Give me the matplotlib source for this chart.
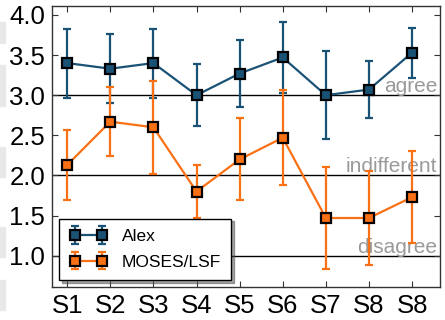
import numpy as np
import matplotlib
matplotlib.use("Agg")
import matplotlib.pyplot as plt
from matplotlib.patches import Rectangle

plt.rcParams['font.family'] = ['Liberation Sans', 'DejaVu Sans']

labels = ["S1", "S2", "S3", "S4", "S5", "S6", "S7", "S8", "S8"]
alex_mean = [3.40, 3.33, 3.40, 3.00, 3.27, 3.47, 3.00, 3.07, 3.53]
alex_err = [0.43, 0.43, 0.43, 0.39, 0.42, 0.44, 0.55, 0.36, 0.31]
moses_mean = [2.13, 2.67, 2.60, 1.80, 2.20, 2.47, 1.47, 1.47, 1.73]
moses_err = [0.44, 0.43, 0.58, 0.33, 0.51, 0.59, 0.63, 0.59, 0.57]
levels = [3.0, 2.0, 1.0]
level_names = ["agree", "indifferent", "disagree"]

blue = "#1a5276"
orange = "#fa7014"

fig = plt.figure(figsize=(4.45, 3.2), dpi=100)
ax = fig.add_axes([0.117, 0.103, 0.872, 0.878])

x = np.arange(1, len(labels) + 1)

for lv, name in zip(levels, level_names):
    ax.axhline(lv, color='black', lw=1.0, zorder=1)
    ax.text(9.58, lv + 0.04, name, ha='right', va='baseline',
            fontsize=15, color='#9a9a9a', zorder=2)

style = dict(marker='s', markersize=7.5, mec='black', mew=1.6,
             lw=1.6, capsize=3, capthick=1.6, elinewidth=1.6, zorder=3)
ax.errorbar(x, alex_mean, yerr=alex_err, color=blue, mfc=blue, label="Alex", **style)
ax.errorbar(x, moses_mean, yerr=moses_err, color=orange, mfc=orange, label="MOSES/LSF", **style)

ax.set_xlim(0.65, 9.65)
ax.set_ylim(0.61, 4.11)
ax.set_xticks(x)
ax.set_xticklabels(labels)
ax.set_yticks([1.0, 1.5, 2.0, 2.5, 3.0, 3.5, 4.0])
ax.set_yticklabels(["1.0", "1.5", "2.0", "2.5", "3.0", "3.5", "4.0"])
ax.tick_params(direction='in', top=True, right=True, labelsize=18.5,
               length=4, width=0.8, color='#333333', pad=5)
for sp in ax.spines.values():
    sp.set_color('#333333')
    sp.set_linewidth(1.0)

leg = ax.legend(loc='lower left', fontsize=12.5, fancybox=False, shadow=True,
                framealpha=1, edgecolor='black', borderaxespad=0.4, numpoints=2,
                handlelength=2.2, borderpad=0.6, labelspacing=0.6)
leg.get_frame().set_linewidth(1.0)

# faint gray strips at the left edge of the original image
for y0, y1 in [(22, 43), (65, 106), (147, 177), (227, 257), (280, 310)]:
    fig.patches.append(Rectangle((0, 1 - y1 / 320), 5 / 445, (y1 - y0) / 320,
                                 transform=fig.transFigure, color='#e8e8e8', zorder=0))

fig.savefig("out.png", dpi=100)
